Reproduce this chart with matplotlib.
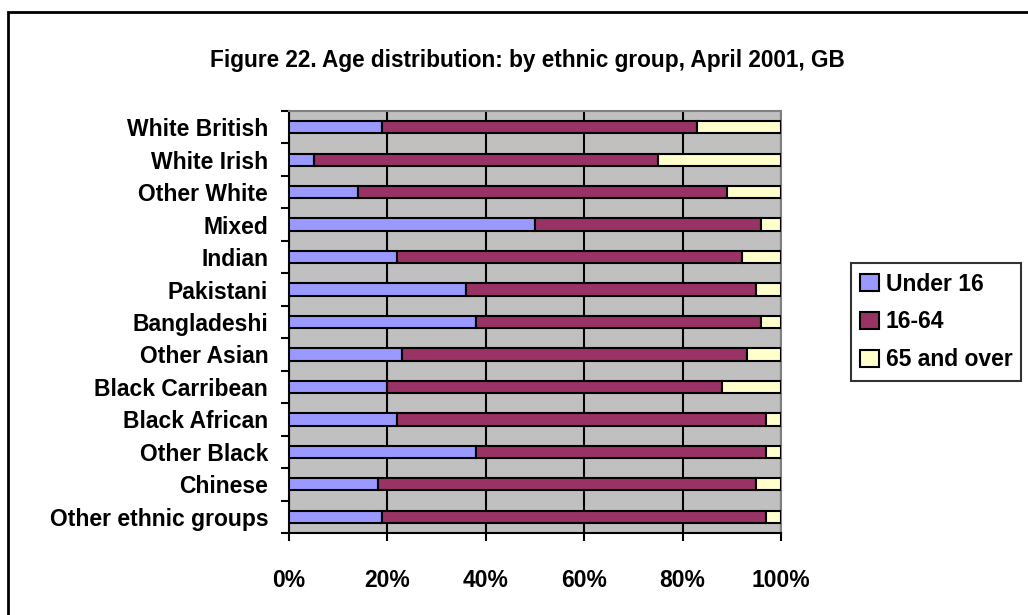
import numpy as np
import matplotlib.pyplot as plt
from matplotlib.patches import Rectangle
from matplotlib.ticker import FuncFormatter

groups = ['White British', 'White Irish', 'Other White', 'Mixed', 'Indian',
          'Pakistani', 'Bangladeshi', 'Other Asian', 'Black Carribean',
          'Black African', 'Other Black', 'Chinese', 'Other ethnic groups']
under16 = [19, 5, 14, 50, 22, 36, 38, 23, 20, 22, 38, 18, 19]
age16_64 = [64, 70, 75, 46, 70, 59, 58, 70, 68, 75, 59, 77, 78]
over65 = [17, 25, 11, 4, 8, 5, 4, 7, 12, 3, 3, 5, 3]
series_names = ['Under 16', '16-64', '65 and over']
colores = ['#9999FF', '#993366', '#FFFFCC']

plt.rcParams['font.family'] = ['Liberation Sans', 'DejaVu Sans']

fig = plt.figure(figsize=(10.28, 6.15), dpi=100)
ax = fig.add_axes([0.2811, 0.1333, 0.4786, 0.6862])
ax.set_facecolor('#C0C0C0')

# Moldura externa do gráfico
fig.patches.append(Rectangle((8 / 1028, -0.05), 1.1, 1 - 12 / 615 + 0.05,
                             transform=fig.transFigure, fill=False,
                             edgecolor='black', linewidth=2))

y = np.arange(len(groups))
left = np.zeros(len(groups))
for vals, nome, cor in zip([under16, age16_64, over65], series_names, colores):
    ax.barh(y, vals, left=left, height=0.38, color=cor, edgecolor='black',
            linewidth=1.5, label=nome, zorder=3)
    left = left + np.array(vals)

ax.set_xlim(0, 100)
ax.set_ylim(len(groups) - 0.5, -0.5)
ax.set_xticks(np.arange(0, 101, 20))
ax.xaxis.set_major_formatter(FuncFormatter(lambda v, p: f'{int(v)}%'))
ax.grid(axis='x', color='black', linewidth=1.5, zorder=1)

ax.set_yticks(y)
ax.set_yticklabels(groups)
ax.set_yticks(np.arange(-0.5, len(groups), 1), minor=True)
ax.tick_params(axis='y', which='major', length=0, pad=15)
ax.tick_params(axis='y', which='minor', length=6, width=1.5, direction='out')
ax.tick_params(axis='x', length=6, width=1.5, direction='out', pad=20)
for lab in ax.get_yticklabels() + ax.get_xticklabels():
    lab.set_fontsize(16.5)
    lab.set_fontweight('bold')

ax.spines['left'].set_linewidth(1.5)
ax.spines['bottom'].set_linewidth(1.5)
ax.spines['top'].set_color('#808080')
ax.spines['right'].set_color('#808080')
ax.spines['top'].set_linewidth(1.5)
ax.spines['right'].set_linewidth(1.5)

fig.text(0.513, 0.902, 'Figure 22. Age distribution: by ethnic group, April 2001, GB',
         ha='center', va='center', fontsize=16.3, fontweight='bold')

leg = fig.legend(loc='center left', bbox_to_anchor=(0.828, 0.4765),
                 prop={'size': 16.5, 'weight': 'bold'}, frameon=True,
                 fancybox=False, edgecolor='black', handlelength=0.8,
                 handleheight=0.8, handletextpad=0.3, labelspacing=0.65,
                 borderpad=0.4, borderaxespad=0)
leg.get_frame().set_linewidth(1.5)

fig.savefig('out.png', dpi=100)
